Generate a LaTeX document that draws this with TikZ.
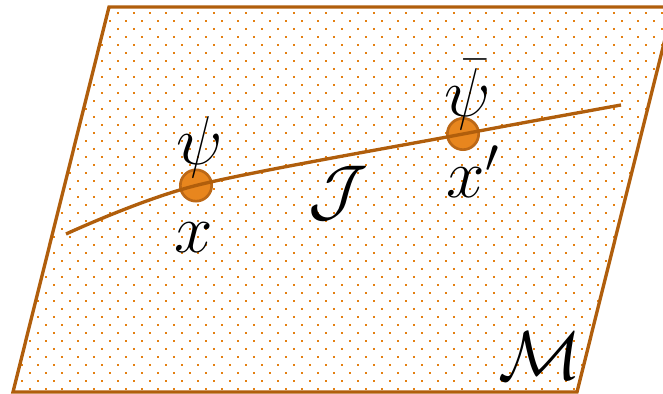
\documentclass[tikz,border=0pt]{standalone}
\definecolor{edgec}{RGB}{176,94,12}
\definecolor{dotc}{RGB}{228,128,18}
\definecolor{ptfill}{RGB}{232,134,30}
\definecolor{ptdraw}{RGB}{188,104,22}
\begin{document}
\begin{tikzpicture}[x=0.3pt,y=-0.3pt,
  edge/.style={draw=edgec,line width=1pt},
  ptnode/.style={circle,fill=ptfill,draw=ptdraw,line width=0.8pt,inner sep=0pt,minimum size=9.4pt},
  lbl/.style={inner sep=0pt,anchor=base,font=\fontsize{21}{25}\selectfont}]
\useasboundingbox (0,0) rectangle (663,394);
\begin{scope}
\clip (0,0) rectangle (663,394);
\coordinate (TL) at (109,7);
\coordinate (TR) at (673,7);
\coordinate (BR) at (577,392);
\coordinate (BL) at (13,392);
\begin{scope}
\clip (TL) -- (TR) -- (BR) -- (BL) -- cycle;
\foreach \j in {0,...,48}{
  \pgfmathsetmacro\yy{12.7+8*\j}
  \pgfmathsetmacro\xo{6+8*mod(\j,2)}
  \foreach \i in {0,...,42}{
    \fill[dotc] (\xo+16*\i-1,\yy-1) rectangle ++(2,2);
  }
}
\end{scope}
\draw[edge] (TL) -- (TR) -- (BR) -- (BL) -- cycle;
\node[ptnode] (p1) at (196,185.5) {};
\node[ptnode] (p2) at (463,134) {};
\coordinate (A) at (66,234);
\coordinate (B) at (621,105);
\draw[edge] plot[smooth] coordinates {(A) (p1.center) (p2.center) (B)};
\node[lbl] (psi) at (200,164.5) {$\psi$};
\node[lbl] (x) at (194,252) {$x$};
\node[lbl] (psibar) at (467.5,116.5) {$\bar\psi$};
\node[lbl,anchor=base west] (xp) at (446,198) {$x'$};
\node[lbl] (J) at (338,213) {$\mathcal{J}$};
\node[lbl] (M) at (540,379) {$\mathcal{M}$};
\end{scope}
\end{tikzpicture}
\end{document}
